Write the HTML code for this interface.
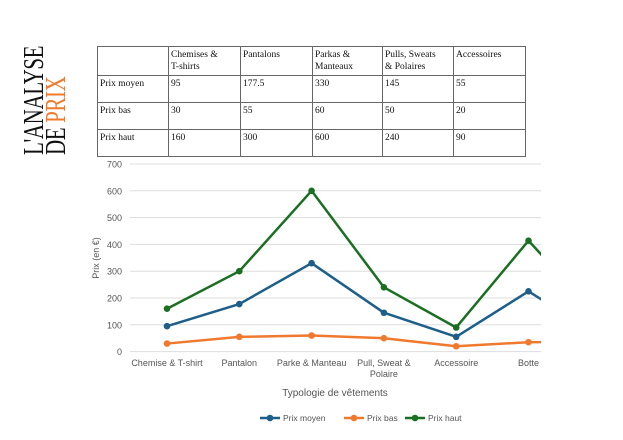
<!DOCTYPE html>
<html><head><meta charset="utf-8"><style>
body{margin:0;width:623px;height:440px;background:#fff;overflow:hidden;position:relative;font-family:"Liberation Sans",sans-serif}
table{position:absolute;left:97px;top:46px;border-collapse:collapse;font-family:"Liberation Serif",serif;font-size:9.5px;color:#111}
td{border:1px solid #666;vertical-align:top;padding:2px 2px;line-height:12px;box-sizing:border-box}
.logo{position:absolute;font-family:"Liberation Serif",serif;font-size:28px;letter-spacing:-0.5px;transform-origin:left top;white-space:nowrap;font-weight:normal;line-height:22px;transform:rotate(-90deg) scaleX(0.75)}
</style></head><body>
<div class="logo" style="left:24px;top:155px;color:#111">L'ANALYSE</div>
<div class="logo" style="left:46px;top:155px;color:#111">DE <span style="color:#f07a2a">PRIX</span></div>
<table>
<tr style="height:28px"><td style="width:71px"></td><td style="width:72px">Chemises &amp;<br>T-shirts</td><td style="width:72px">Pantalons</td><td style="width:70px">Parkas &amp;<br>Manteaux</td><td style="width:71px">Pulls, Sweats<br>&amp; Polaires</td><td style="width:72px">Accessoires</td></tr>
<tr style="height:27px"><td>Prix moyen</td><td>95</td><td>177.5</td><td>330</td><td>145</td><td>55</td></tr>
<tr style="height:27px"><td>Prix bas</td><td>30</td><td>55</td><td>60</td><td>50</td><td>20</td></tr>
<tr style="height:27px"><td>Prix haut</td><td>160</td><td>300</td><td>600</td><td>240</td><td>90</td></tr>
</table>
<svg id="chart" width="623" height="440" style="position:absolute;left:0;top:0"></svg>
<script>
const categories=["Chemise & T-shirt","Pantalon","Parke & Manteau","Pull, Sweat &|Polaire","Accessoire","Botte","Autre"];
const prixMoyen=[95,177.5,330,145,55,225,55];
const prixBas=[30,55,60,50,20,35,38];
const prixHaut=[160,300,600,240,90,414,120];
const yTicks=[0,100,200,300,400,500,600,700];
const svg=document.getElementById('chart');
const NS='http://www.w3.org/2000/svg';
const x=i=>167+i*72.3;
const y=v=>351.6-v*187.6/700;
function el(t,a,p){const e=document.createElementNS(NS,t);for(const k in a)e.setAttribute(k,a[k]);(p||svg).appendChild(e);return e;}
yTicks.forEach(v=>{
 const g=el('line',{x1:130,x2:541,y1:y(v),y2:y(v),stroke:'#ddd','stroke-width':1});
 
 
 const t=el('text',{x:122,y:y(v)+3.5,'text-anchor':'end','font-size':9,fill:'#555'});t.textContent=v;
 
 
});
categories.forEach((c,i)=>{
 if(x(i)>560)return;
 const t=el('text',{x:x(i),y:366,'text-anchor':'middle','font-size':9,fill:'#555'});
 
 
 c.split('|').forEach((s,j)=>{const ts=el('tspan',{x:x(i),dy:j?11:0},t);ts.textContent=s;});
});
const clip=el('clipPath',{id:'cp'});el('rect',{x:0,y:0,width:541,height:440},clip);
const g=el('g',{'clip-path':'url(#cp)'});
[[prixMoyen,'#1e5f8a','prix-moyen'],[prixBas,'#ef7a2e','prix-bas'],[prixHaut,'#1b6f22','prix-haut']].forEach(([d,c,n])=>{
 const p=el('polyline',{points:d.map((v,i)=>x(i)+','+y(v)).join(' '),fill:'none',stroke:c,'stroke-width':2.5,'stroke-linejoin':'round'},g);
 
 
 d.forEach((v,i)=>{const m=el('circle',{cx:x(i),cy:y(v),r:3.3,fill:c},g);
  
  });
});
const yt=el('text',{x:99,y:258,'text-anchor':'middle','font-size':9,fill:'#555',transform:'rotate(-90 99 258)'});yt.textContent='Prix (en €)';


const xt=el('text',{x:335,y:396,'text-anchor':'middle','font-size':10,fill:'#555'});xt.textContent='Typologie de vêtements';


[['Prix moyen','#1e5f8a',260],['Prix bas','#ef7a2e',344],['Prix haut','#1b6f22',405]].forEach(([l,c,lx])=>{
 const lg=el('g',{});
 
 
 el('line',{x1:lx,x2:lx+20,y1:418,y2:418,stroke:c,'stroke-width':2.5},lg);
 el('circle',{cx:lx+10,cy:418,r:3.3,fill:c},lg);
 const t=el('text',{x:lx+23,y:421,'font-size':8.5,fill:'#555'},lg);t.textContent=l;
});
</script>
</body></html>
